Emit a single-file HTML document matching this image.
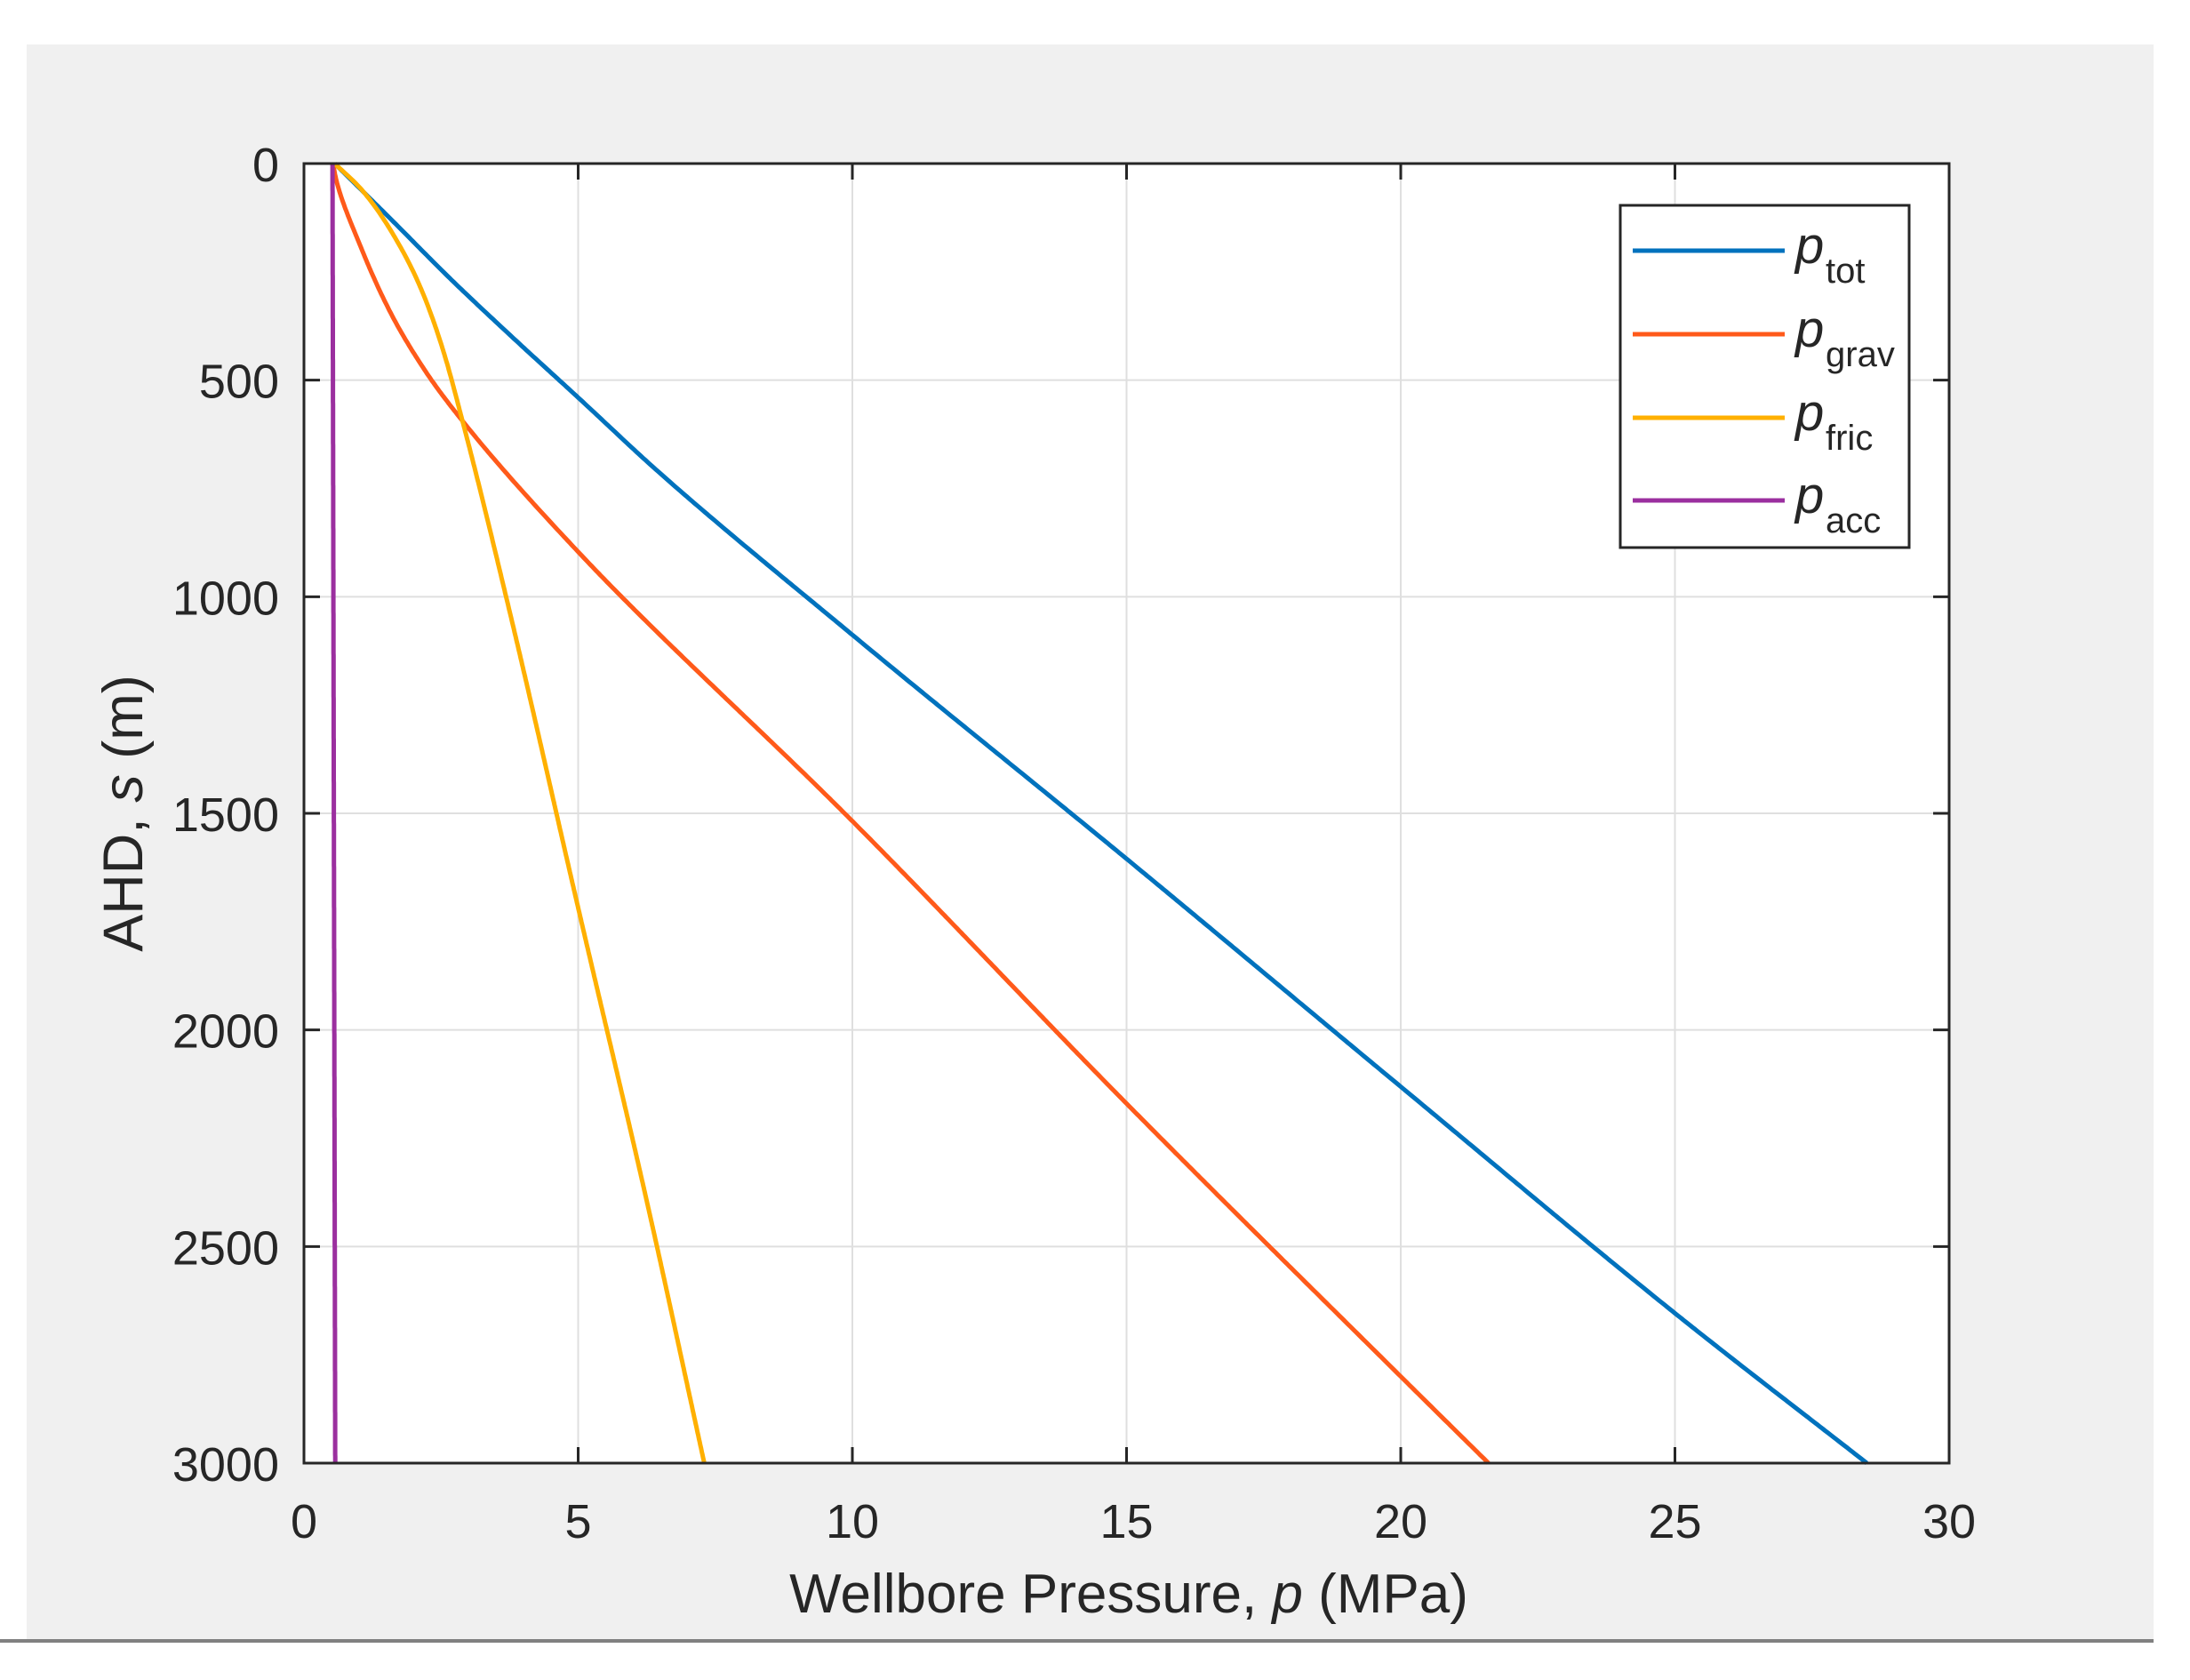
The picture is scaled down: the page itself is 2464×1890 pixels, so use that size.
<!DOCTYPE html>
<html><head><meta charset="utf-8"><style>
html,body{margin:0;padding:0;background:#fff}
svg{display:block}
text{font-family:"Liberation Sans",Arial,sans-serif;fill:#262626}
</style></head><body>
<svg id="chart" width="2464" height="1890" viewBox="0 0 2464 1890">
<rect x="30" y="50" width="2393" height="1796" fill="#f0f0f0"/>
<rect x="0" y="1844" width="2423" height="4" fill="#808080"/>
<rect x="342" y="184" width="1851" height="1462" fill="#fff"/>
<g id="grid"></g>
<g id="series"></g>
<rect x="342" y="184" width="1851" height="1462" fill="none" stroke="#262626" stroke-width="3"/>
<g id="ticks"></g>
<text x="1270" y="1814" font-size="62" text-anchor="middle">Wellbore Pressure, <tspan font-style="italic">p</tspan> (MPa)</text>
<text transform="translate(160,915) rotate(-90)" font-size="63" text-anchor="middle">AHD, <tspan font-style="italic">s</tspan> (m)</text>
<g>
<rect x="1823" y="231" width="325" height="385" fill="#fff" stroke="#262626" stroke-width="3"/>
<g id="legend-items"></g>
</g>
</svg>
<script>
const xTicks=[0,5,10,15,20,25,30];
const yTicks=[0,500,1000,1500,2000,2500,3000];
const sTot=[0,129,266,395,539,710,1088,1605,2131,2654,3000];
const pTot=[0.56,1.59,2.67,3.75,4.99,6.45,10.0,15.0,20.0,25.0,28.5];
const sGrav=[0,33,197,347,484,594,895,1518,2170,2800,3000];
const pGrav=[0.53,0.58,1.05,1.59,2.24,2.89,4.99,10.0,15.0,20.0,21.6];
const sFric=[0,60,156,279,416,594,1018,1718,2400,3000];
const pFric=[0.56,1.05,1.59,2.10,2.50,2.89,3.72,5.0,6.26,7.3];
const sAcc=[0,3000];
const pAcc=[0.52,0.57];
const seriesNames=["tot","grav","fric","acc"];
const NS="http://www.w3.org/2000/svg";
const L=342,R=2193,T=184,B=1646;
function xs(v){return L+(v-0)/(30-0)*(R-L);}
function ys(v){return T+(v-0)/(3000-0)*(B-T);}
function mk(tag,attrs,parent){const e=document.createElementNS(NS,tag);for(const k in attrs)e.setAttribute(k,attrs[k]);parent.appendChild(e);return e;}
function monotone(S,P){
  const n=S.length,h=[],d=[],m=new Array(n);
  for(let i=0;i<n-1;i++){h[i]=S[i+1]-S[i];d[i]=(P[i+1]-P[i])/h[i];}
  m[0]=d[0];m[n-1]=d[n-2];
  for(let i=1;i<n-1;i++){m[i]=(d[i-1]*d[i]<=0)?0:(3*(h[i-1]+h[i]))/((2*h[i]+h[i-1])/d[i-1]+(h[i]+2*h[i-1])/d[i]);}
  return function(s){
    let i=0;while(i<n-2&&s>S[i+1])i++;
    const t=(s-S[i])/h[i],t2=t*t,t3=t2*t;
    return (2*t3-3*t2+1)*P[i]+(t3-2*t2+t)*h[i]*m[i]+(-2*t3+3*t2)*P[i+1]+(t3-t2)*h[i]*m[i+1];
  };
}
const grid=document.getElementById('grid'),ticks=document.getElementById('ticks'),series=document.getElementById('series');
xTicks.forEach(v=>{
  const x=xs(v);
  if(v>0&&v<30){const g=mk('line',{x1:x,x2:x,y1:T,y2:B,stroke:'#dfdfdf','stroke-width':2},grid);
  
  }
  const t1=mk('line',{x1:x,x2:x,y1:B,y2:B-18,stroke:'#262626','stroke-width':3},ticks);
  
  
  const t2=mk('line',{x1:x,x2:x,y1:T,y2:T+18,stroke:'#262626','stroke-width':3},ticks);
  
  
  const lb=mk('text',{x:x,y:1730,'font-size':54,'text-anchor':'middle'},ticks);
  lb.textContent=v;
  
  
});
yTicks.forEach(v=>{
  const y=ys(v);
  if(v>0&&v<3000){const g=mk('line',{x1:L,x2:R,y1:y,y2:y,stroke:'#dfdfdf','stroke-width':2},grid);
  
  }
  const t1=mk('line',{x1:L,x2:L+18,y1:y,y2:y,stroke:'#262626','stroke-width':3},ticks);
  
  
  const t2=mk('line',{x1:R,x2:R-18,y1:y,y2:y,stroke:'#262626','stroke-width':3},ticks);
  
  
  const lb=mk('text',{x:314,y:y+20,'font-size':54,'text-anchor':'end'},ticks);
  lb.textContent=v;
  
  
});
const data=[[sTot,pTot,'#0072bd'],[sGrav,pGrav,'#ff5a1a'],[sFric,pFric,'#ffb000'],[sAcc,pAcc,'#9b2f9f']];
data.forEach((d,i)=>{
  const S=d[0],P=d[1];
  const f=monotone(S,P);
  const pts=[];
  const s0=S[0],s1=S[S.length-1];
  for(let s=s0;s<=s1+0.001;s+=5){pts.push(xs(f(Math.min(s,s1))).toFixed(1)+','+ys(Math.min(s,s1)).toFixed(1));}
  const pl=mk('polyline',{points:pts.join(' '),fill:'none',stroke:d[2],'stroke-width':5,'stroke-linejoin':'round'},series);
  
  
});
const leg=document.getElementById('legend-items');
const rowsY=[282,376,470,563];
seriesNames.forEach((n,i)=>{
  const y=rowsY[i];
  const ln=mk('line',{x1:1837,x2:2008,y1:y,y2:y,stroke:data[i][2],'stroke-width':5},leg);
  
  
  const t=mk('text',{x:2020,y:y+14,'font-size':58,'font-style':'italic'},leg);
  t.textContent='p';
  
  
  const sub=mk('text',{x:2054,y:y+36,'font-size':40},leg);
  sub.textContent=n;
  
  
});
</script>
</body></html>
